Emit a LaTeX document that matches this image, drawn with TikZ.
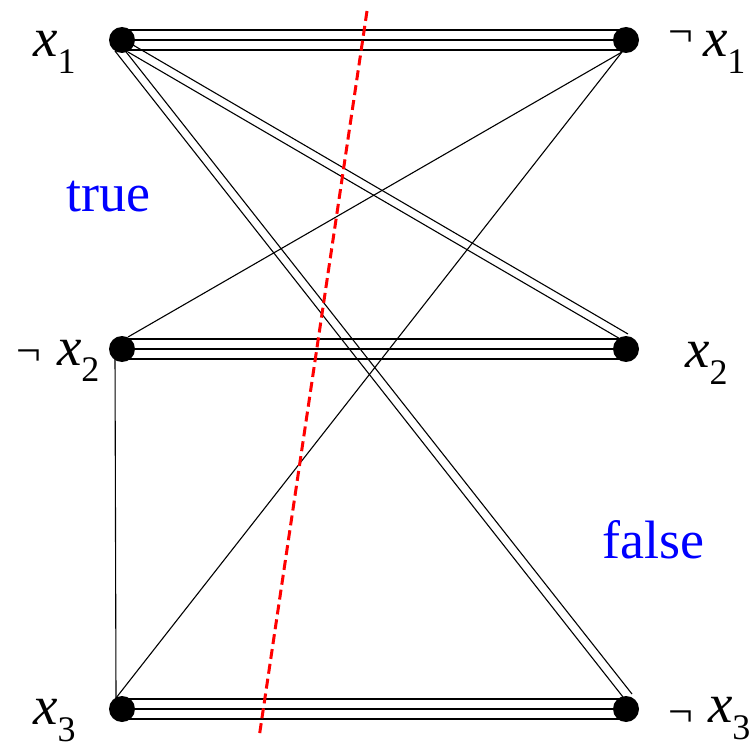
\documentclass[tikz,border=0pt]{standalone}
\usepackage{fontspec}
\setmainfont{Liberation Serif}
\newcommand\mysub[1]{\raisebox{-17pt}[0pt][0pt]{\fontsize{36}{36}\selectfont #1}}
\newcommand\myneg[1]{\raisebox{#1}{\fontsize{44}{44}\selectfont ¬}}
\begin{document}
\begin{tikzpicture}[x=1pt,y=-1pt,
  vert/.style={circle,fill=black,inner sep=0pt,minimum size=26pt},
  edge/.style={line width=1.1pt,black},
  lab/.style={inner sep=0pt,anchor=base west,font=\fontsize{55}{60}\selectfont},
  tf/.style={inner sep=0pt,anchor=base west,text=blue,font=\fontsize{54}{60}\selectfont},
  cut/.style={red,line width=3pt,dash pattern=on 10pt off 5pt}]
\useasboundingbox (0,0) rectangle (756,749);
\path (122,40) coordinate (cx1) (626,40) coordinate (cnx1)
      (122,349) coordinate (cnx2) (626,349) coordinate (cx2)
      (122,709) coordinate (cx3) (626,709) coordinate (cnx3);
% triple edges
\foreach \a/\b in {cx1/cnx1,cnx2/cx2,cx3/cnx3}{
  \foreach \d in {-10,0,10}{
    \draw[edge] ([yshift=-\d pt]\a) -- ([yshift=-\d pt]\b);
  }
}
% double edges
\draw[edge] (133,45) coordinate (a1) -- (628,334) coordinate (a2);
\draw[edge] (128,52) coordinate (b1) -- (622,340) coordinate (b2);
\draw[edge] (115,51) coordinate (c1) -- (623,697) coordinate (c2);
\draw[edge] (123,48) coordinate (d1) -- (632,694) coordinate (d2);
% single edges
\draw[edge] (128,337) coordinate (e1) -- (622,52) coordinate (e2);
\draw[edge] (116,698) coordinate (f1) -- (e2);
\draw[edge] (115,352) coordinate (g1) -- (f1);
% vertices
\node[vert] (x1) at (cx1) {};
\node[vert] (nx1) at (cnx1) {};
\node[vert] (nx2) at (cnx2) {};
\node[vert] (x2) at (cx2) {};
\node[vert] (x3) at (cx3) {};
\node[vert] (nx3) at (cnx3) {};
% cut
\draw[cut] (367,11) coordinate (r1) -- (259,738) coordinate (r2);
% labels
\node[lab] (lx1) at (33,57) {\textit{x}\mysub{1}};
\node[lab] (lnx1) at (668,57) {\myneg{10pt}\hspace{10pt}\textit{x}\mysub{1}};
\node[lab] (lnx2) at (16,365) {\myneg{0pt}\hspace{16pt}\textit{x}\mysub{2}};
\node[lab] (lx2) at (685,367) {\textit{x}\mysub{2}};
\node[lab] (lx3) at (33,724) {\textit{x}\mysub{3}};
\node[lab] (lnx3) at (668,722) {\myneg{-4pt}\hspace{15pt}\textit{x}\mysub{3}};
\node[tf] (ttrue) at (66,212) {true};
\node[tf] (tfalse) at (602,558) {false};
\end{tikzpicture}
\end{document}
